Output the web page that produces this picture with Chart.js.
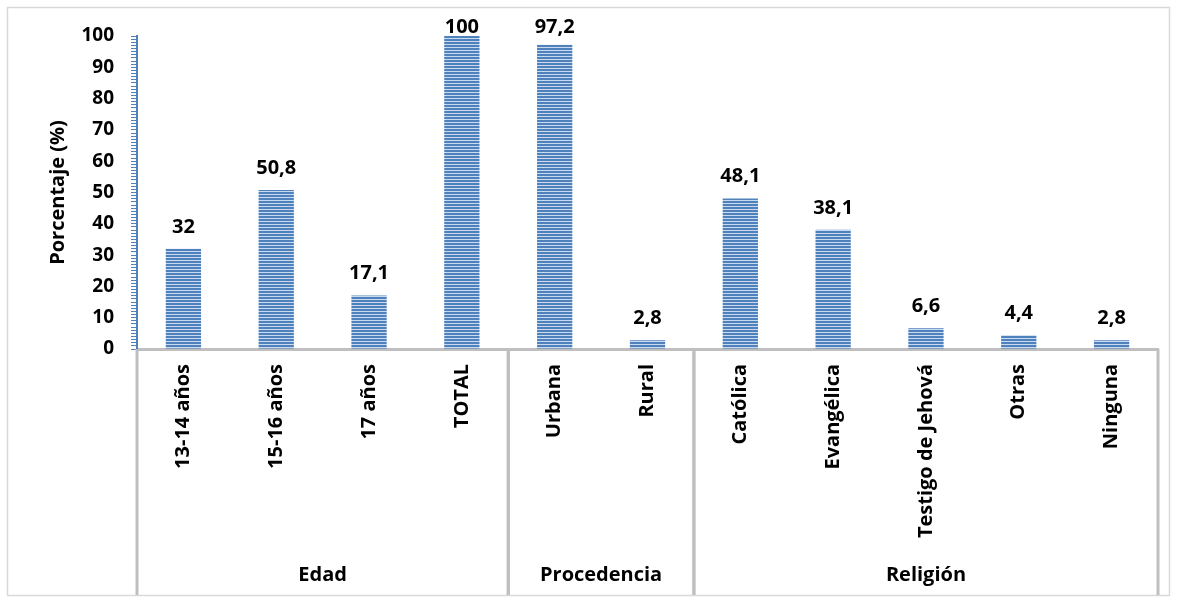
<!DOCTYPE html>
<html>
<head>
<meta charset="utf-8">
<script src="https://cdn.jsdelivr.net/npm/chart.js@4.4.1/dist/chart.umd.min.js"></script>
<style>
  html, body { margin: 0; padding: 0; background: #fff; }
  #wrap { position: relative; width: 1177px; height: 600px; }
</style>
</head>
<body>
<div id="wrap"><canvas id="chart"></canvas></div>
<script>
(function(){

    // data
    const categories = ['13-14 años', '15-16 años', '17 años', 'TOTAL', 'Urbana', 'Rural',
        'Católica', 'Evangélica', 'Testigo de Jehová', 'Otras', 'Ninguna'];
    const percentages = [32, 50.8, 17.1, 100, 97.2, 2.8, 48.1, 38.1, 6.6, 4.4, 2.8];
    const groupNames = ['Edad', 'Procedencia', 'Religión'];
    const groupSizes = [4, 2, 5];
    const yMin = 0, yMax = 100, yLabelStep = 10;

    const FONT = '"Open Sans", sans-serif';
    Chart.defaults.font.family = FONT;
    Chart.defaults.font.size = 19;
    Chart.defaults.font.weight = 'bold';
    Chart.defaults.color = '#000';

    // striped fill like the excel pattern
    function stripes() {
        const c = document.createElement('canvas');
        c.width = 4; c.height = 3;
        const g = c.getContext('2d');
        g.fillStyle = '#4f81bd';
        g.fillRect(0, 0, 4, 2);
        g.fillStyle = '#c9daf0';
        g.fillRect(0, 2, 4, 1);
        return g.createPattern(c, 'repeat');
    }

    // numbers above bars, comma decimal; tall ones get pushed down to stay in the frame like excel does
    const valueLabels = {
        id: 'valueLabels',
        afterDatasetsDraw(chart) {
            const ctx = chart.ctx;
            const meta = chart.getDatasetMeta(0);
            const minBase = chart.chartArea.top - 3;
            ctx.save();
            ctx.font = 'bold 20px ' + FONT;
            ctx.fillStyle = '#000';
            ctx.textAlign = 'center';
            ctx.textBaseline = 'alphabetic';
            meta.data.forEach((bar, i) => {
                const txt = String(percentages[i]).replace('.', ',');
                ctx.fillText(txt, bar.x, Math.max(bar.y - 16, minBase));
            });
            ctx.restore();
        }
    };

    // outer frame, group separators and group names under the x axis
    const groups = {
        id: 'groups',
        beforeDraw(chart) {
            const ctx = chart.ctx;
            ctx.save();
            ctx.strokeStyle = '#d9d9d9';
            ctx.lineWidth = 1.5;
            ctx.strokeRect(7.5, 7.5, chart.width - 15, chart.height - 12);
            ctx.restore();
        },
        afterDraw(chart) {
            const ctx = chart.ctx;
            const xs = chart.scales.x;
            const area = chart.chartArea;
            const half = (xs.getPixelForValue(1) - xs.getPixelForValue(0)) / 2;
            const bottom = chart.height - 5;
            ctx.save();
            ctx.strokeStyle = '#bfbfbf';
            ctx.lineWidth = 3;
            ctx.fillStyle = '#000';
            ctx.font = 'bold 20px ' + FONT;
            ctx.textAlign = 'center';
            ctx.textBaseline = 'middle';
            let start = 0;
            groupNames.forEach((name, g) => {
                const end = start + groupSizes[g] - 1;
                const x0 = xs.getPixelForValue(start) - half;
                const x1 = xs.getPixelForValue(end) + half;
                ctx.beginPath();
                ctx.moveTo(x0, area.bottom);
                ctx.lineTo(x0, bottom);
                ctx.moveTo(x1, area.bottom);
                ctx.lineTo(x1, bottom);
                ctx.stroke();
                ctx.fillText(name, (x0 + x1) / 2, 575);
                start = end + 1;
            });
            ctx.restore();
        }
    };

    const chart = new Chart(document.getElementById('chart'), {
        type: 'bar',
        data: {
            labels: categories,
            datasets: [{
                data: percentages,
                backgroundColor: stripes(),
                borderWidth: 0,
                categoryPercentage: 1,
                barPercentage: 0.38
            }]
        },
        options: {
            responsive: true,
            maintainAspectRatio: false,
            animation: false,
            layout: { padding: { left: 0, right: 19, top: 36, bottom: 0 } },
            plugins: {
                legend: { display: false },
                tooltip: { enabled: false }
            },
            scales: {
                x: {
                    grid: { display: false },
                    border: { color: '#bfbfbf', width: 3 },
                    ticks: {
                        minRotation: 90,
                        maxRotation: 90,
                        autoSkip: false,
                        padding: 7,
                        font: { size: 20, weight: 'bold' }
                    },
                    afterFit(scale) { scale.height = 251; }
                },
                y: {
                    min: yMin,
                    max: yMax,
                    grid: {
                        drawOnChartArea: false,
                        drawTicks: true,
                        tickLength: 6,
                        color: '#4f81bd',
                        lineWidth: 1
                    },
                    border: { color: '#4f81bd', width: 2 },
                    ticks: {
                        stepSize: 1,
                        maxTicksLimit: 200,
                        autoSkip: false,
                        padding: 17,
                        font: { size: 19, weight: 'bold' },
                        callback: v => (v % yLabelStep === 0 ? v : '')
                    },
                    title: {
                        display: true,
                        text: 'Porcentaje (%)',
                        font: { size: 20, weight: 'bold' },
                        padding: { top: 46, bottom: 0 }
                    },
                    afterFit(scale) { scale.width = 137; }
                }
            }
        },
        plugins: [valueLabels, groups]
    });

})();
</script>
</body>
</html>
